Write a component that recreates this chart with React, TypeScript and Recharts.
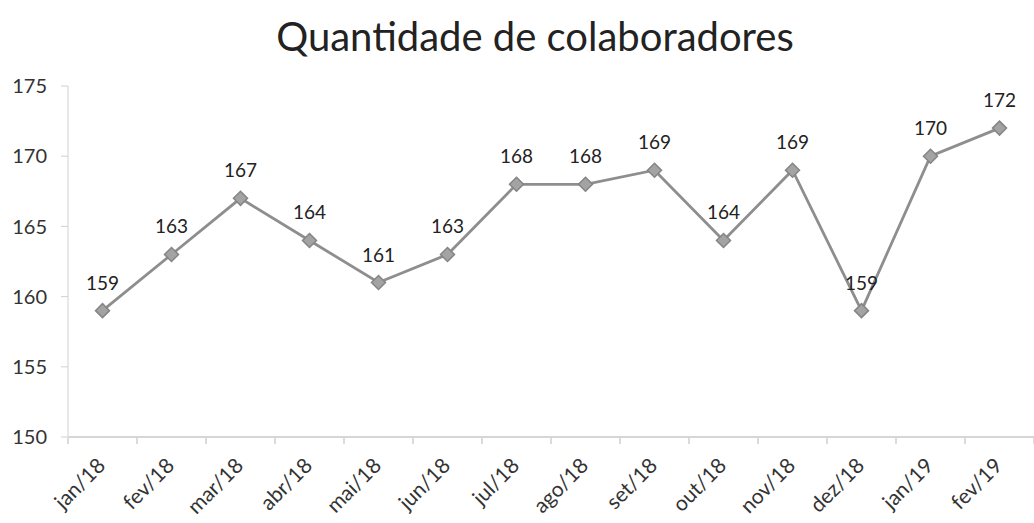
import React from 'react';
import { LineChart, Line, XAxis, YAxis, LabelList } from 'recharts';

// Monthly headcount
const months = [
  'jan/18', 'fev/18', 'mar/18', 'abr/18', 'mai/18', 'jun/18', 'jul/18',
  'ago/18', 'set/18', 'out/18', 'nov/18', 'dez/18', 'jan/19', 'fev/19',
];
const headcount = [159, 163, 167, 164, 161, 163, 168, 168, 169, 164, 169, 159, 170, 172];
const yTicks = [150, 155, 160, 165, 170, 175];

const data = months.map((m, i) => ({ month: m, value: headcount[i] }));

const FONT = 'Lato, "Open Sans", sans-serif';
const HALF_BAND = 34.5;

const Diamond = (props: { cx?: number; cy?: number; index?: number }) => {
  const { cx, cy } = props;
  if (cx == null || cy == null) return null;
  const r = 7;
  return (
    <polygon
      key={`d-${props.index}`}
      points={`${cx},${cy - r} ${cx + r},${cy} ${cx},${cy + r} ${cx - r},${cy}`}
      fill="#a3a3a3"
      stroke="#858585"
      strokeWidth={1.5}
    />
  );
};

// category labels sit under the point, tick marks fall between categories (excel style)
const MonthTick = (props: { x?: number; y?: number; index?: number; payload?: { value: string } }) => {
  const { x = 0, y = 0, index = 0, payload } = props;
  const lx = x + 4;
  const ly = y + 20;
  return (
    <g>
      <line x1={x - HALF_BAND} y1={y - 9} x2={x - HALF_BAND} y2={y - 3} stroke="#cfcfcf" strokeWidth={1.5} />
      {index === months.length - 1 && (
        <line x1={x + HALF_BAND} y1={y - 9} x2={x + HALF_BAND} y2={y - 3} stroke="#cfcfcf" strokeWidth={1.5} />
      )}
      <text
        x={lx}
        y={ly}
        transform={`rotate(-45, ${lx}, ${ly})`}
        textAnchor="end"
        fontSize={21}
        fill="#333"
        fontFamily={FONT}
      >
        {payload?.value}
      </text>
    </g>
  );
};

export default function App() {
  return (
    <div style={{ position: 'absolute', left: 0, top: 0, width: 1034, height: 523, background: '#fff' }}>
      <div
        style={{
          position: 'absolute',
          left: 0,
          top: 12,
          width: 1070,
          textAlign: 'center',
          fontFamily: FONT,
          fontSize: 40,
          color: '#222',
        }}
      >
        Quantidade de colaboradores
      </div>
      <LineChart width={1034} height={523} data={data} margin={{ top: 86, right: 0, bottom: 56, left: 0 }}>
        <XAxis
          dataKey="month"
          axisLine={{ stroke: '#d6d6d6', strokeWidth: 2 }}
          tickLine={false}
          interval={0}
          tick={<MonthTick />}
          tickSize={8}
          height={30}
          padding={{ left: HALF_BAND, right: HALF_BAND }}
        />
        <YAxis
          domain={[150, 175]}
          ticks={yTicks}
          width={68}
          axisLine={{ stroke: '#e0e0e0', strokeWidth: 1.5 }}
          tickLine={{ stroke: '#d0d0d0' }}
          tickSize={7}
          tickMargin={14}
          tick={{ fontSize: 20, fill: '#333', fontFamily: FONT }}
        />
        <Line
          type="linear"
          dataKey="value"
          stroke="#8e8e8e"
          strokeWidth={2.8}
          dot={<Diamond />}
          activeDot={false}
          isAnimationActive={false}
        >
          <LabelList dataKey="value" position="top" offset={21} fontSize={19} fill="#222" fontFamily={FONT} />
        </Line>
      </LineChart>
    </div>
  );
}
